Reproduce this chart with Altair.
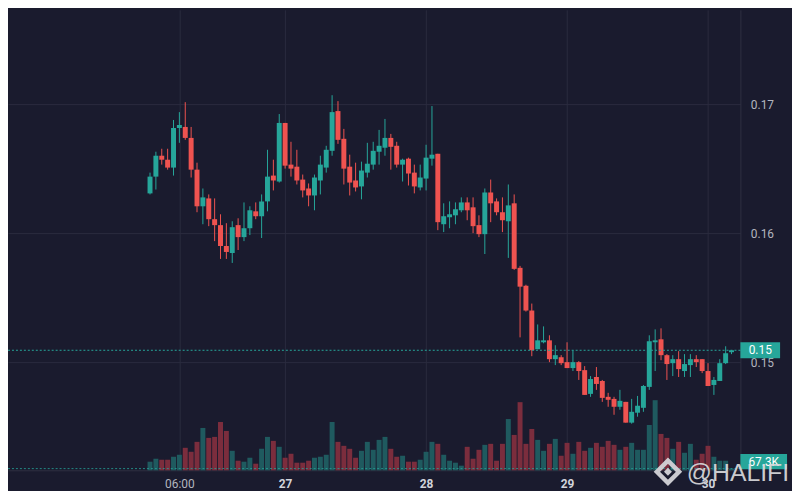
import altair as alt
import pandas as pd

# ---- data (hourly candles, 26th 01:00 onward) ----
opens = [0.16308, 0.16438, 0.16600, 0.16569, 0.16508, 0.16815, 0.16823, 0.16738, 0.16492, 0.16208,
         0.16269, 0.16108, 0.16062, 0.15900, 0.15846, 0.16062, 0.15969, 0.16038, 0.16169, 0.16131,
         0.16246, 0.16446, 0.16400, 0.16854, 0.16531, 0.16515, 0.16415, 0.16346, 0.16292, 0.16408,
         0.16508, 0.16638, 0.16946, 0.16731, 0.16515, 0.16408, 0.16362, 0.16469, 0.16531, 0.16631,
         0.16662, 0.16738, 0.16677, 0.16531, 0.16577, 0.16469, 0.16354, 0.16423, 0.16577, 0.16615,
         0.16069, 0.16123, 0.16138, 0.16177, 0.16238, 0.16200, 0.16062, 0.15992, 0.16315, 0.16246,
         0.16162, 0.16092, 0.16231, 0.15731, 0.15592, 0.15400, 0.15100, 0.15154, 0.15169, 0.15023,
         0.15038, 0.15000, 0.14954, 0.15000, 0.14938, 0.14754, 0.14885, 0.14854, 0.14731, 0.14715,
         0.14654, 0.14692, 0.14531, 0.14608, 0.14646, 0.14808, 0.15154, 0.15177, 0.15054, 0.14992,
         0.15023, 0.14931, 0.14977, 0.15023, 0.15023, 0.14931, 0.14823, 0.14854, 0.14992, 0.15077]
highs = [0.16469, 0.16631, 0.16654, 0.16654, 0.16877, 0.16938, 0.17015, 0.16823, 0.16546, 0.16346,
         0.16300, 0.16269, 0.16146, 0.16077, 0.16092, 0.16115, 0.16238, 0.16208, 0.16238, 0.16300,
         0.16646, 0.16569, 0.16923, 0.16854, 0.16708, 0.16646, 0.16454, 0.16385, 0.16454, 0.16600,
         0.16677, 0.17069, 0.17023, 0.16808, 0.16608, 0.16546, 0.16554, 0.16700, 0.16708, 0.16800,
         0.16885, 0.16769, 0.16708, 0.16577, 0.16585, 0.16531, 0.16531, 0.16685, 0.16985, 0.16615,
         0.16231, 0.16246, 0.16238, 0.16277, 0.16277, 0.16277, 0.16138, 0.16346, 0.16415, 0.16269,
         0.16277, 0.16377, 0.16300, 0.15746, 0.15600, 0.15454, 0.15292, 0.15277, 0.15208, 0.15131,
         0.15054, 0.15154, 0.15092, 0.15008, 0.14969, 0.14892, 0.14962, 0.14862, 0.14762, 0.14731,
         0.14785, 0.14692, 0.14715, 0.14738, 0.14823, 0.15208, 0.15254, 0.15262, 0.15062, 0.15054,
         0.15085, 0.15062, 0.15062, 0.15054, 0.15023, 0.14992, 0.14885, 0.15023, 0.15123, 0.15092]
lows = [0.16300, 0.16338, 0.16531, 0.16492, 0.16446, 0.16700, 0.16723, 0.16431, 0.16162, 0.16069,
        0.16054, 0.15938, 0.15800, 0.15800, 0.15769, 0.15869, 0.15938, 0.15985, 0.16108, 0.15962,
        0.16169, 0.16331, 0.16392, 0.16500, 0.16438, 0.16377, 0.16277, 0.16208, 0.16177, 0.16300,
        0.16469, 0.16600, 0.16692, 0.16377, 0.16292, 0.16323, 0.16262, 0.16431, 0.16492, 0.16531,
        0.16600, 0.16492, 0.16508, 0.16400, 0.16369, 0.16308, 0.16331, 0.16331, 0.16523, 0.16023,
        0.16008, 0.16038, 0.16069, 0.16162, 0.16100, 0.16000, 0.15969, 0.15838, 0.16085, 0.16138,
        0.16008, 0.15808, 0.15715, 0.15192, 0.15392, 0.15046, 0.15100, 0.15146, 0.15000, 0.14977,
        0.14977, 0.14954, 0.14931, 0.14862, 0.14746, 0.14731, 0.14785, 0.14692, 0.14654, 0.14592,
        0.14631, 0.14531, 0.14523, 0.14577, 0.14615, 0.14785, 0.14931, 0.15015, 0.14862, 0.14892,
        0.14885, 0.14885, 0.14885, 0.14962, 0.14915, 0.14815, 0.14746, 0.14854, 0.14985, 0.15062]
closes = [0.16438, 0.16600, 0.16569, 0.16508, 0.16815, 0.16838, 0.16738, 0.16492, 0.16208, 0.16277,
          0.16108, 0.16062, 0.15900, 0.15854, 0.16046, 0.15969, 0.16038, 0.16177, 0.16131, 0.16246,
          0.16438, 0.16408, 0.16854, 0.16523, 0.16500, 0.16408, 0.16331, 0.16292, 0.16431, 0.16531,
          0.16646, 0.16938, 0.16723, 0.16500, 0.16392, 0.16354, 0.16485, 0.16538, 0.16638, 0.16677,
          0.16738, 0.16669, 0.16531, 0.16569, 0.16462, 0.16362, 0.16431, 0.16585, 0.16608, 0.16085,
          0.16131, 0.16146, 0.16185, 0.16238, 0.16177, 0.16054, 0.15992, 0.16315, 0.16231, 0.16162,
          0.16100, 0.16215, 0.15723, 0.15585, 0.15400, 0.15092, 0.15169, 0.15169, 0.15023, 0.15054,
          0.14992, 0.14954, 0.15000, 0.14931, 0.14746, 0.14869, 0.14831, 0.14723, 0.14708, 0.14654,
          0.14700, 0.14531, 0.14615, 0.14662, 0.14815, 0.15162, 0.15169, 0.15054, 0.14985, 0.15023,
          0.14946, 0.14985, 0.15023, 0.15000, 0.14931, 0.14815, 0.14862, 0.14992, 0.15069, 0.15092]
volumes_k = [338, 455, 416, 416, 533, 611, 884, 728, 1118, 1664,
             1274, 1313, 1898, 1547, 767, 377, 338, 494, 260, 845,
             1313, 1157, 923, 494, 650, 299, 299, 377, 494, 533,
             611, 1898, 1118, 962, 845, 494, 767, 1118, 806, 1196,
             1313, 845, 533, 572, 338, 338, 416, 728, 1118, 1040,
             611, 377, 299, 182, 923, 455, 806, 1001, 1040, 377,
             1040, 2015, 1391, 2678, 1040, 1625, 1196, 767, 1040, 1235,
             572, 1079, 650, 1118, 767, 884, 1079, 923, 1157, 1001,
             806, 923, 1079, 806, 806, 1781, 2756, 1430, 1274, 845,
             1118, 689, 1040, 416, 650, 962, 533, 377, 377, 67.3]

x_tick_hours = [5, 23, 47, 71, 95]
x_tick_labels = ["06:00", "27", "28", "29", "30"]
price_ticks = [0.15, 0.16, 0.17]
last_price = 0.15092
last_price_label = "0.15"
last_volume = 67.3
last_volume_label = "67.3K"
watermark_text = "@HALIFI"

# ---- styles ----
BG = "#1a1b2e"
GRID = "#2a2b3e"
BORDER = "#2e3042"
UP, DOWN = "#26a69a", "#ef5350"
UP_VOL, DOWN_VOL = "#1f5a5f", "#7b2d3d"
AXIS_TXT = "#b2b5be"
FONT = "Roboto"

W, H = 738, 464

df = pd.DataFrame({
    "h": list(range(len(opens))),
    "open": opens, "high": highs, "low": lows, "close": closes, "vol": volumes_k,
})
df["dir"] = ["up" if c >= o else "down" for o, c in zip(opens, closes)]

label_expr = " : ".join(
    f"datum.value == {h} ? '{t}'" for h, t in zip(x_tick_hours[:-1], x_tick_labels[:-1])
) + f" : '{x_tick_labels[-1]}'"

xscale = alt.Scale(domain=[-23.333, 99.667], nice=False, zero=False)
xaxis = alt.Axis(
    values=x_tick_hours, labelExpr=label_expr, title=None, grid=True, gridColor=GRID,
    gridWidth=1, domain=True, domainColor=BORDER, ticks=False, tickSize=0,
    labelPadding=13, labelBaseline="middle", labelFontSize=12, labelFont=FONT,
    labelColor={"condition": {"test": f"datum.value == {x_tick_hours[0]}", "value": AXIS_TXT}, "value": "#d1d4dc"},
    labelFontWeight={"condition": {"test": f"datum.value == {x_tick_hours[0]}", "value": "normal"}, "value": "bold"},
    labelFlush=False, labelOverlap=False,
)
xenc = alt.X("h:Q", scale=xscale, axis=xaxis)

yscale = alt.Scale(domain=[0.141615, 0.177308], nice=False, zero=False)
yaxis = alt.Axis(
    orient="right", values=price_ticks, format=".2f", title=None, grid=True, gridColor=GRID,
    gridWidth=1, domain=True, domainColor=BORDER, ticks=False, tickSize=0, labelPadding=10,
    labelFontSize=12, labelFont=FONT, labelColor=AXIS_TXT, labelFlush=False, labelOverlap=False,
)
vscale = alt.Scale(domain=[0, 18096], nice=False, zero=True)

price_color = alt.Color("dir:N", scale=alt.Scale(domain=["up", "down"], range=[UP, DOWN]), legend=None)
vol_color = alt.Color("dir:N", scale=alt.Scale(domain=["up", "down"], range=[UP_VOL, DOWN_VOL]), legend=None)

base = alt.Chart(df)

volume = base.mark_bar(size=5).encode(
    x=xenc, y=alt.Y("vol:Q", scale=vscale, axis=None), color=vol_color
)
wicks = base.mark_rule(strokeWidth=1).encode(
    x=xenc, y=alt.Y("low:Q", scale=yscale, axis=yaxis), y2="high:Q", color=price_color
)
bodies = base.mark_bar(size=5).encode(
    x=xenc, y=alt.Y("open:Q", scale=yscale, axis=None), y2="close:Q", color=price_color
)

last_df = pd.DataFrame({"p": [last_price], "t": [last_price_label], "v": [last_volume], "vt": [last_volume_label]})
last = alt.Chart(last_df)

price_line = last.mark_rule(color=UP, strokeDash=[2, 2], strokeWidth=1).encode(
    y=alt.Y("p:Q", scale=yscale, axis=None)
)
vol_line = last.mark_rule(color=UP, strokeDash=[2, 2], strokeWidth=1, opacity=0.8).encode(
    y=alt.Y("v:Q", scale=vscale, axis=None)
)
price_box = last.mark_tick(color=UP, orient="horizontal", size=40, thickness=16, opacity=1).encode(
    x=alt.value(758), y=alt.Y("p:Q", scale=yscale, axis=None)
)
price_txt = last.mark_text(color="#ffffff", fontSize=12, font=FONT, align="center", baseline="middle").encode(
    x=alt.value(758), y=alt.Y("p:Q", scale=yscale, axis=None), text="t:N"
)
vol_box = last.mark_rect(color=UP).encode(
    x=alt.value(738), x2=alt.value(785), y=alt.value(447.5), y2=alt.value(463)
)
vol_txt = last.mark_text(color="#ffffff", fontSize=12, font=FONT, align="center", baseline="middle").encode(
    x=alt.value(761.5), y=alt.value(455.5), text="vt:N"
)

wm = alt.Chart(pd.DataFrame({"w": [watermark_text]}))
logo_outer = wm.mark_point(shape="diamond", filled=False, strokeWidth=4.5, size=500, color="#d4d4d8", opacity=0.95).encode(
    x=alt.value(665), y=alt.value(465.5)
)
logo_inner = wm.mark_point(shape="diamond", filled=True, size=64, color="#d4d4d8", opacity=0.95).encode(
    x=alt.value(665), y=alt.value(465.5)
)
wm_text = wm.mark_text(align="left", baseline="middle", fontSize=25, font="Liberation Sans",
                       color="#d9d9dc", opacity=0.92).encode(
    x=alt.value(684), y=alt.value(467), text="w:N"
)

chart = alt.layer(
    volume, vol_line, wicks, bodies, price_line, price_box, price_txt,
    vol_box, vol_txt, logo_outer, logo_inner, wm_text,
).resolve_scale(y="independent", color="independent").properties(
    width=W, height=H, background=BG,
    padding={"left": 0, "top": 0, "right": 52, "bottom": 19},
    autosize=alt.AutoSizeParams(type="none"),
).configure_view(stroke=None)

chart.save("out.html", embed_options={"renderer": "svg", "actions": False})
